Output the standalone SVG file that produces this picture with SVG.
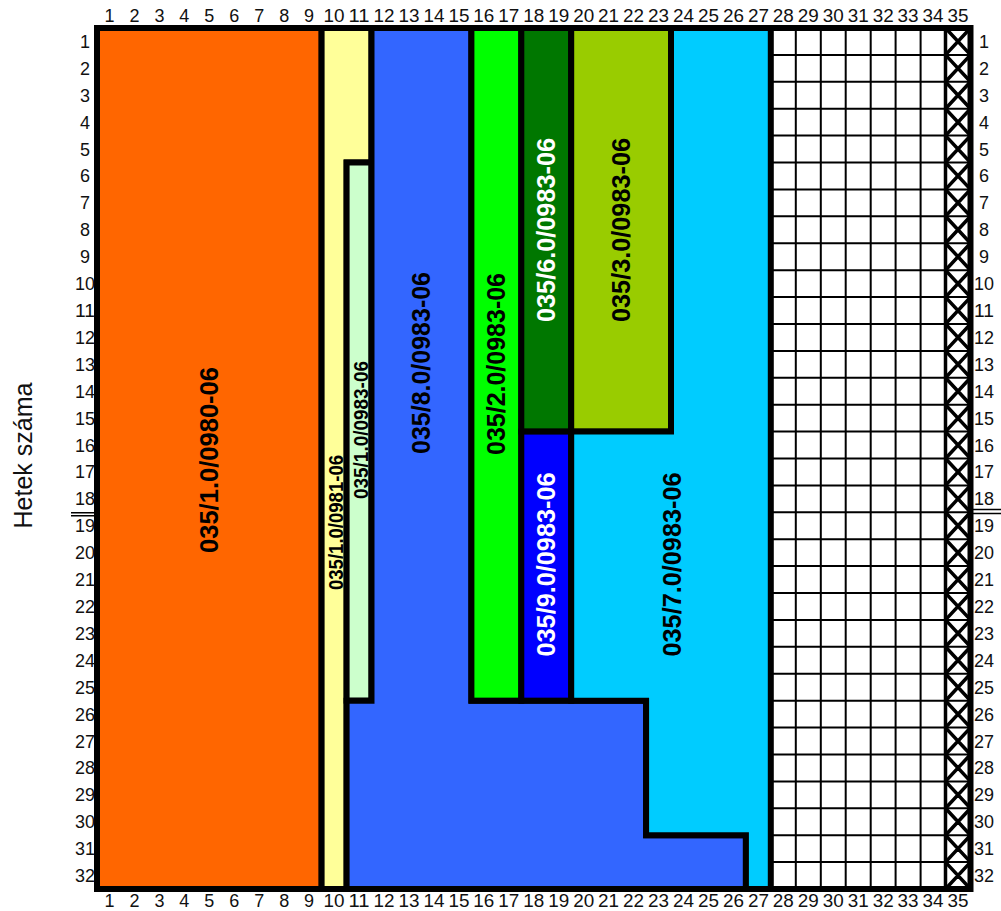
<svg xmlns="http://www.w3.org/2000/svg" width="1001" height="911" viewBox="0 0 1001 911">
<style>
.num{font-family:"Liberation Sans",Arial,sans-serif;font-size:18px;fill:#111;text-anchor:middle}
.blk{stroke:#000;stroke-width:6;stroke-linejoin:miter}
.lbl{font-family:"Liberation Sans",Arial,sans-serif;font-weight:bold;text-anchor:middle}
.big{font-size:26px}
.small{font-size:21px}
.thin{stroke:#000;stroke-width:2;fill:none}
.xl{stroke:#000;stroke-width:3.5;fill:none}
.dbl{stroke:#000;stroke-width:1.5;fill:none}
</style>
<rect width="1001" height="911" fill="#fff"/>
<g id="grid-white">
<rect x="770.8" y="28" width="199.7" height="861" fill="#fff"/>
<g class="thin">
<path d="M795.8 28V889M820.8 28V889M845.7 28V889M870.7 28V889M895.6 28V889M920.6 28V889"/>
<path d="M770.8 54.9H970.5M770.8 81.8H970.5M770.8 108.7H970.5M770.8 135.6H970.5M770.8 162.5H970.5M770.8 189.4H970.5M770.8 216.3H970.5M770.8 243.2H970.5M770.8 270.2H970.5M770.8 297.1H970.5M770.8 324H970.5M770.8 350.9H970.5M770.8 377.8H970.5M770.8 404.7H970.5M770.8 431.6H970.5M770.8 458.5H970.5M770.8 485.4H970.5M770.8 512.3H970.5M770.8 539.2H970.5M770.8 566.1H970.5M770.8 593H970.5M770.8 619.9H970.5M770.8 646.8H970.5M770.8 673.7H970.5M770.8 700.7H970.5M770.8 727.6H970.5M770.8 754.5H970.5M770.8 781.4H970.5M770.8 808.3H970.5M770.8 835.2H970.5M770.8 862.1H970.5"/>
</g>
<path class="xl" d="M945.5 28V889"/>
<path class="xl" d="M945.5 28L970.5 54.9M970.5 28L945.5 54.9M945.5 54.9L970.5 81.8M970.5 54.9L945.5 81.8M945.5 81.8L970.5 108.7M970.5 81.8L945.5 108.7M945.5 108.7L970.5 135.6M970.5 108.7L945.5 135.6M945.5 135.6L970.5 162.5M970.5 135.6L945.5 162.5M945.5 162.5L970.5 189.4M970.5 162.5L945.5 189.4M945.5 189.4L970.5 216.3M970.5 189.4L945.5 216.3M945.5 216.3L970.5 243.2M970.5 216.3L945.5 243.2M945.5 243.2L970.5 270.2M970.5 243.2L945.5 270.2M945.5 270.2L970.5 297.1M970.5 270.2L945.5 297.1M945.5 297.1L970.5 324M970.5 297.1L945.5 324M945.5 324L970.5 350.9M970.5 324L945.5 350.9M945.5 350.9L970.5 377.8M970.5 350.9L945.5 377.8M945.5 377.8L970.5 404.7M970.5 377.8L945.5 404.7M945.5 404.7L970.5 431.6M970.5 404.7L945.5 431.6M945.5 431.6L970.5 458.5M970.5 431.6L945.5 458.5M945.5 458.5L970.5 485.4M970.5 458.5L945.5 485.4M945.5 485.4L970.5 512.3M970.5 485.4L945.5 512.3M945.5 512.3L970.5 539.2M970.5 512.3L945.5 539.2M945.5 539.2L970.5 566.1M970.5 539.2L945.5 566.1M945.5 566.1L970.5 593M970.5 566.1L945.5 593M945.5 593L970.5 619.9M970.5 593L945.5 619.9M945.5 619.9L970.5 646.8M970.5 619.9L945.5 646.8M945.5 646.8L970.5 673.7M970.5 646.8L945.5 673.7M945.5 673.7L970.5 700.7M970.5 673.7L945.5 700.7M945.5 700.7L970.5 727.6M970.5 700.7L945.5 727.6M945.5 727.6L970.5 754.5M970.5 727.6L945.5 754.5M945.5 754.5L970.5 781.4M970.5 754.5L945.5 781.4M945.5 781.4L970.5 808.3M970.5 781.4L945.5 808.3M945.5 808.3L970.5 835.2M970.5 808.3L945.5 835.2M945.5 835.2L970.5 862.1M970.5 835.2L945.5 862.1M945.5 862.1L970.5 889M970.5 862.1L945.5 889"/>
</g>
<g id="n-0980">
<rect class="blk" x="97" y="28" width="224.6" height="861" fill="#FF6600"/>
<text class="lbl big" transform="translate(218 460) rotate(-90)" textLength="186" lengthAdjust="spacingAndGlyphs">035/1.0/0980-06</text>
</g>
<g id="n-0981">
<polygon class="blk" points="321.6,28 371.5,28 371.5,162.5 346.6,162.5 346.6,889 321.6,889" fill="#FFFF99"/>
<text class="lbl small" transform="translate(343 522.5) rotate(-90)" textLength="135" lengthAdjust="spacingAndGlyphs">035/1.0/0981-06</text>
</g>
<g id="n-0983-1">
<rect class="blk" x="346.6" y="162.5" width="24.9" height="538.15" fill="#CCFFCC"/>
<text class="lbl small" transform="translate(368 430) rotate(-90)" textLength="138" lengthAdjust="spacingAndGlyphs">035/1.0/0983-06</text>
</g>
<g id="n-8">
<polygon class="blk" points="371.5,28 471.4,28 471.4,700.65 646.1,700.65 646.1,835.2 745.9,835.2 745.9,889 346.6,889 346.6,700.65 371.5,700.65" fill="#3366FF"/>
<text class="lbl big" transform="translate(430 363) rotate(-90)" textLength="182" lengthAdjust="spacingAndGlyphs">035/8.0/0983-06</text>
</g>
<g id="n-2">
<rect class="blk" x="471.4" y="28" width="49.9" height="672.65" fill="#00FF00"/>
<text class="lbl big" transform="translate(505 364) rotate(-90)" textLength="182" lengthAdjust="spacingAndGlyphs">035/2.0/0983-06</text>
</g>
<g id="n-6">
<rect class="blk" x="521.3" y="28" width="49.9" height="403.6" fill="#007700"/>
<text class="lbl big" transform="translate(555 230) rotate(-90)" textLength="184" lengthAdjust="spacingAndGlyphs" fill="#fff">035/6.0/0983-06</text>
</g>
<g id="n-9">
<rect class="blk" x="521.3" y="431.6" width="49.9" height="269.05" fill="#0000FF"/>
<text class="lbl big" transform="translate(555 564.5) rotate(-90)" textLength="184" lengthAdjust="spacingAndGlyphs" fill="#fff">035/9.0/0983-06</text>
</g>
<g id="n-3">
<rect class="blk" x="571.2" y="28" width="99.8" height="403.6" fill="#99CC00"/>
<text class="lbl big" transform="translate(630 230) rotate(-90)" textLength="184" lengthAdjust="spacingAndGlyphs">035/3.0/0983-06</text>
</g>
<g id="n-7">
<polygon class="blk" points="671,28 770.8,28 770.8,889 745.9,889 745.9,835.2 646.1,835.2 646.1,700.65 571.2,700.65 571.2,431.6 671,431.6" fill="#00CCFF"/>
<text class="lbl big" transform="translate(681 564.5) rotate(-90)" textLength="184" lengthAdjust="spacingAndGlyphs">035/7.0/0983-06</text>
</g>
<g id="border">
<rect x="97" y="28" width="873.5" height="861" fill="none" stroke="#000" stroke-width="6"/>
</g>
<g id="connectors">
<path class="dbl" d="M71 512.8H94M71 515.8H94"/>
<path class="dbl" d="M973 509.5H1001M973 513.5H1001"/>
</g>
<g id="axis-title">
<text transform="translate(31.5 455.5) rotate(-90)" font-family="Liberation Sans, Arial, sans-serif" font-size="25" fill="#111" text-anchor="middle">Hetek száma</text>
</g>
<g id="col-top" class="num">
<text x="109.5" y="22">1</text><text x="134.4" y="22">2</text><text x="159.4" y="22">3</text><text x="184.3" y="22">4</text><text x="209.3" y="22">5</text><text x="234.3" y="22">6</text><text x="259.2" y="22">7</text><text x="284.2" y="22">8</text><text x="309.1" y="22">9</text><text x="334.1" y="22" textLength="21" lengthAdjust="spacingAndGlyphs">10</text><text x="359" y="22" textLength="21" lengthAdjust="spacingAndGlyphs">11</text><text x="384" y="22" textLength="21" lengthAdjust="spacingAndGlyphs">12</text><text x="409" y="22" textLength="21" lengthAdjust="spacingAndGlyphs">13</text><text x="433.9" y="22" textLength="21" lengthAdjust="spacingAndGlyphs">14</text><text x="458.9" y="22" textLength="21" lengthAdjust="spacingAndGlyphs">15</text><text x="483.8" y="22" textLength="21" lengthAdjust="spacingAndGlyphs">16</text><text x="508.8" y="22" textLength="21" lengthAdjust="spacingAndGlyphs">17</text><text x="533.8" y="22" textLength="21" lengthAdjust="spacingAndGlyphs">18</text><text x="558.7" y="22" textLength="21" lengthAdjust="spacingAndGlyphs">19</text><text x="583.7" y="22" textLength="21" lengthAdjust="spacingAndGlyphs">20</text><text x="608.6" y="22" textLength="21" lengthAdjust="spacingAndGlyphs">21</text><text x="633.6" y="22" textLength="21" lengthAdjust="spacingAndGlyphs">22</text><text x="658.5" y="22" textLength="21" lengthAdjust="spacingAndGlyphs">23</text><text x="683.5" y="22" textLength="21" lengthAdjust="spacingAndGlyphs">24</text><text x="708.5" y="22" textLength="21" lengthAdjust="spacingAndGlyphs">25</text><text x="733.4" y="22" textLength="21" lengthAdjust="spacingAndGlyphs">26</text><text x="758.4" y="22" textLength="21" lengthAdjust="spacingAndGlyphs">27</text><text x="783.3" y="22" textLength="21" lengthAdjust="spacingAndGlyphs">28</text><text x="808.3" y="22" textLength="21" lengthAdjust="spacingAndGlyphs">29</text><text x="833.2" y="22" textLength="21" lengthAdjust="spacingAndGlyphs">30</text><text x="858.2" y="22" textLength="21" lengthAdjust="spacingAndGlyphs">31</text><text x="883.2" y="22" textLength="21" lengthAdjust="spacingAndGlyphs">32</text><text x="908.1" y="22" textLength="21" lengthAdjust="spacingAndGlyphs">33</text><text x="933.1" y="22" textLength="21" lengthAdjust="spacingAndGlyphs">34</text><text x="958" y="22" textLength="21" lengthAdjust="spacingAndGlyphs">35</text>
</g>
<g id="col-bottom" class="num">
<text x="109.5" y="906.5">1</text><text x="134.4" y="906.5">2</text><text x="159.4" y="906.5">3</text><text x="184.3" y="906.5">4</text><text x="209.3" y="906.5">5</text><text x="234.3" y="906.5">6</text><text x="259.2" y="906.5">7</text><text x="284.2" y="906.5">8</text><text x="309.1" y="906.5">9</text><text x="334.1" y="906.5" textLength="21" lengthAdjust="spacingAndGlyphs">10</text><text x="359" y="906.5" textLength="21" lengthAdjust="spacingAndGlyphs">11</text><text x="384" y="906.5" textLength="21" lengthAdjust="spacingAndGlyphs">12</text><text x="409" y="906.5" textLength="21" lengthAdjust="spacingAndGlyphs">13</text><text x="433.9" y="906.5" textLength="21" lengthAdjust="spacingAndGlyphs">14</text><text x="458.9" y="906.5" textLength="21" lengthAdjust="spacingAndGlyphs">15</text><text x="483.8" y="906.5" textLength="21" lengthAdjust="spacingAndGlyphs">16</text><text x="508.8" y="906.5" textLength="21" lengthAdjust="spacingAndGlyphs">17</text><text x="533.8" y="906.5" textLength="21" lengthAdjust="spacingAndGlyphs">18</text><text x="558.7" y="906.5" textLength="21" lengthAdjust="spacingAndGlyphs">19</text><text x="583.7" y="906.5" textLength="21" lengthAdjust="spacingAndGlyphs">20</text><text x="608.6" y="906.5" textLength="21" lengthAdjust="spacingAndGlyphs">21</text><text x="633.6" y="906.5" textLength="21" lengthAdjust="spacingAndGlyphs">22</text><text x="658.5" y="906.5" textLength="21" lengthAdjust="spacingAndGlyphs">23</text><text x="683.5" y="906.5" textLength="21" lengthAdjust="spacingAndGlyphs">24</text><text x="708.5" y="906.5" textLength="21" lengthAdjust="spacingAndGlyphs">25</text><text x="733.4" y="906.5" textLength="21" lengthAdjust="spacingAndGlyphs">26</text><text x="758.4" y="906.5" textLength="21" lengthAdjust="spacingAndGlyphs">27</text><text x="783.3" y="906.5" textLength="21" lengthAdjust="spacingAndGlyphs">28</text><text x="808.3" y="906.5" textLength="21" lengthAdjust="spacingAndGlyphs">29</text><text x="833.2" y="906.5" textLength="21" lengthAdjust="spacingAndGlyphs">30</text><text x="858.2" y="906.5" textLength="21" lengthAdjust="spacingAndGlyphs">31</text><text x="883.2" y="906.5" textLength="21" lengthAdjust="spacingAndGlyphs">32</text><text x="908.1" y="906.5" textLength="21" lengthAdjust="spacingAndGlyphs">33</text><text x="933.1" y="906.5" textLength="21" lengthAdjust="spacingAndGlyphs">34</text><text x="958" y="906.5" textLength="21" lengthAdjust="spacingAndGlyphs">35</text>
</g>
<g id="row-left" class="num" transform="translate(85 6.5)">
<text y="41.45">1</text><text y="68.36">2</text><text y="95.27">3</text><text y="122.17">4</text><text y="149.08">5</text><text y="175.98">6</text><text y="202.89">7</text><text y="229.8">8</text><text y="256.7">9</text><text y="283.61" textLength="20" lengthAdjust="spacingAndGlyphs">10</text><text y="310.51" textLength="20" lengthAdjust="spacingAndGlyphs">11</text><text y="337.42" textLength="20" lengthAdjust="spacingAndGlyphs">12</text><text y="364.32" textLength="20" lengthAdjust="spacingAndGlyphs">13</text><text y="391.23" textLength="20" lengthAdjust="spacingAndGlyphs">14</text><text y="418.14" textLength="20" lengthAdjust="spacingAndGlyphs">15</text><text y="445.04" textLength="20" lengthAdjust="spacingAndGlyphs">16</text><text y="471.95" textLength="20" lengthAdjust="spacingAndGlyphs">17</text><text y="498.85" textLength="20" lengthAdjust="spacingAndGlyphs">18</text><text y="525.76" textLength="20" lengthAdjust="spacingAndGlyphs">19</text><text y="552.67" textLength="20" lengthAdjust="spacingAndGlyphs">20</text><text y="579.57" textLength="20" lengthAdjust="spacingAndGlyphs">21</text><text y="606.48" textLength="20" lengthAdjust="spacingAndGlyphs">22</text><text y="633.38" textLength="20" lengthAdjust="spacingAndGlyphs">23</text><text y="660.29" textLength="20" lengthAdjust="spacingAndGlyphs">24</text><text y="687.2" textLength="20" lengthAdjust="spacingAndGlyphs">25</text><text y="714.1" textLength="20" lengthAdjust="spacingAndGlyphs">26</text><text y="741.01" textLength="20" lengthAdjust="spacingAndGlyphs">27</text><text y="767.91" textLength="20" lengthAdjust="spacingAndGlyphs">28</text><text y="794.82" textLength="20" lengthAdjust="spacingAndGlyphs">29</text><text y="821.73" textLength="20" lengthAdjust="spacingAndGlyphs">30</text><text y="848.63" textLength="20" lengthAdjust="spacingAndGlyphs">31</text><text y="875.54" textLength="20" lengthAdjust="spacingAndGlyphs">32</text>
</g>
<g id="row-right" class="num" transform="translate(984 6.5)">
<text y="41.45">1</text><text y="68.36">2</text><text y="95.27">3</text><text y="122.17">4</text><text y="149.08">5</text><text y="175.98">6</text><text y="202.89">7</text><text y="229.8">8</text><text y="256.7">9</text><text y="283.61" textLength="20" lengthAdjust="spacingAndGlyphs">10</text><text y="310.51" textLength="20" lengthAdjust="spacingAndGlyphs">11</text><text y="337.42" textLength="20" lengthAdjust="spacingAndGlyphs">12</text><text y="364.32" textLength="20" lengthAdjust="spacingAndGlyphs">13</text><text y="391.23" textLength="20" lengthAdjust="spacingAndGlyphs">14</text><text y="418.14" textLength="20" lengthAdjust="spacingAndGlyphs">15</text><text y="445.04" textLength="20" lengthAdjust="spacingAndGlyphs">16</text><text y="471.95" textLength="20" lengthAdjust="spacingAndGlyphs">17</text><text y="498.85" textLength="20" lengthAdjust="spacingAndGlyphs">18</text><text y="525.76" textLength="20" lengthAdjust="spacingAndGlyphs">19</text><text y="552.67" textLength="20" lengthAdjust="spacingAndGlyphs">20</text><text y="579.57" textLength="20" lengthAdjust="spacingAndGlyphs">21</text><text y="606.48" textLength="20" lengthAdjust="spacingAndGlyphs">22</text><text y="633.38" textLength="20" lengthAdjust="spacingAndGlyphs">23</text><text y="660.29" textLength="20" lengthAdjust="spacingAndGlyphs">24</text><text y="687.2" textLength="20" lengthAdjust="spacingAndGlyphs">25</text><text y="714.1" textLength="20" lengthAdjust="spacingAndGlyphs">26</text><text y="741.01" textLength="20" lengthAdjust="spacingAndGlyphs">27</text><text y="767.91" textLength="20" lengthAdjust="spacingAndGlyphs">28</text><text y="794.82" textLength="20" lengthAdjust="spacingAndGlyphs">29</text><text y="821.73" textLength="20" lengthAdjust="spacingAndGlyphs">30</text><text y="848.63" textLength="20" lengthAdjust="spacingAndGlyphs">31</text><text y="875.54" textLength="20" lengthAdjust="spacingAndGlyphs">32</text>
</g>
</svg>
